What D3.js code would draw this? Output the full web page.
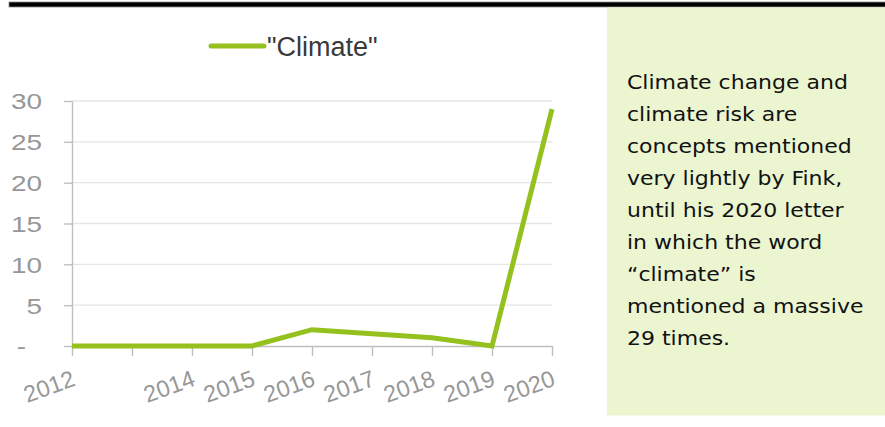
<!DOCTYPE html>
<html>
<head>
<meta charset="utf-8">
<script src="https://cdn.jsdelivr.net/npm/d3@7"></script>
<style>
  html, body { margin: 0; padding: 0; background: #ffffff; }
  svg { display: block; }
</style>
</head>
<body>
<svg id="chart" width="885" height="427"></svg>
<script>
// Mentions of the word "climate" per annual letter
const years = [2012, 2013, 2014, 2015, 2016, 2017, 2018, 2019, 2020];
const mentions = [0, 0, 0, 0, 2, 1.5, 1, 0, 29];
const yearLabels = ["2012", "", "2014", "2015", "2016", "2017", "2018", "2019", "2020"];
const yTicks = [0, 5, 10, 15, 20, 25, 30];
const seriesName = "\"Climate\"";
const noteLines = [
  "Climate change and",
  "climate risk are",
  "concepts mentioned",
  "very lightly by Fink,",
  "until his 2020 letter",
  "in which the word",
  "\u201Cclimate\u201D is",
  "mentioned a massive",
  "29 times."
];

const svg = d3.select("#chart");
const green = "#95c11f";
const axisGrey = "#bfbfbf";
const labelGrey = "#979797";

// Heading rule across the top
svg.append("rect")
  .attr("x", 9).attr("y", 2).attr("width", 880).attr("height", 5)
  .attr("fill", "#000").attr("stroke", "#8a8a8a").attr("stroke-width", 0.8);

// Side note panel
svg.append("rect")
  .attr("x", 607).attr("y", 7.5).attr("width", 278).attr("height", 408)
  .attr("fill", "#ebf5d0");

const note = svg.append("g")
  .attr("transform", "translate(627,89) scale(1.1,1)");
note.selectAll("text")
  .data(noteLines)
  .join("text")
  .attr("x", 0)
  .attr("y", (d, i) => i * 32)
  .attr("font-family", "'DejaVu Sans', sans-serif")
  .attr("font-size", 20)
  .attr("fill", "#111")
  .text(d => d);

// Scales
const x = d3.scalePoint().domain(years).range([72, 552]);
const y = d3.scaleLinear().domain([0, 30]).range([346, 101]);

// Horizontal gridlines
svg.append("g")
  .selectAll("line")
  .data(yTicks.filter(d => d > 0))
  .join("line")
  .attr("x1", 72).attr("x2", 552)
  .attr("y1", d => y(d)).attr("y2", d => y(d))
  .attr("stroke", "#e6e6e6").attr("stroke-width", 1.3);

// Y axis
const yAxis = svg.append("g")
  .attr("transform", "translate(72,0)")
  .call(d3.axisLeft(y).tickValues(yTicks).tickSize(8).tickSizeOuter(0)
    .tickFormat(d => d === 0 ? "-" : d3.format("d")(d)));
yAxis.selectAll("path, line").attr("stroke", axisGrey).attr("stroke-width", 1.4);
yAxis.selectAll("text")
  .attr("x", 0)
  .attr("dy", "0.36em")
  .attr("transform", d => d === 0 ? "translate(-46,0) scale(1.27,1)" : "translate(-30,0) scale(1.27,1)")
  .attr("font-family", "'Liberation Sans', Arial, sans-serif")
  .attr("font-size", 22)
  .attr("fill", labelGrey);

// X axis
const xAxis = svg.append("g")
  .attr("transform", "translate(0,346)")
  .call(d3.axisBottom(x).tickSize(10).tickSizeOuter(0)
    .tickFormat((d, i) => yearLabels[i]));
xAxis.selectAll("path, line").attr("stroke", axisGrey).attr("stroke-width", 1.4);
xAxis.selectAll("text")
  .attr("x", 0).attr("y", 0).attr("dy", 0)
  .attr("text-anchor", "end")
  .attr("transform", "translate(4,39) rotate(-20)")
  .attr("font-family", "'Liberation Sans', Arial, sans-serif")
  .attr("font-size", 23.5)
  .attr("fill", labelGrey);

// Series line
svg.append("path")
  .datum(years.map((yr, i) => [yr, mentions[i]]))
  .attr("fill", "none")
  .attr("stroke", green)
  .attr("stroke-width", 5)
  .attr("stroke-linejoin", "miter")
  .attr("d", d3.line().x(d => x(d[0])).y(d => y(d[1])));

// Legend
const legend = svg.append("g");
legend.append("line")
  .attr("x1", 211).attr("x2", 264).attr("y1", 46).attr("y2", 46)
  .attr("stroke", green).attr("stroke-width", 5).attr("stroke-linecap", "round");
legend.append("text")
  .attr("x", 267).attr("y", 56)
  .attr("font-family", "'Liberation Sans', Arial, sans-serif")
  .attr("font-size", 27)
  .attr("fill", "#3a3a3a")
  .text(seriesName);
</script>
</body>
</html>
